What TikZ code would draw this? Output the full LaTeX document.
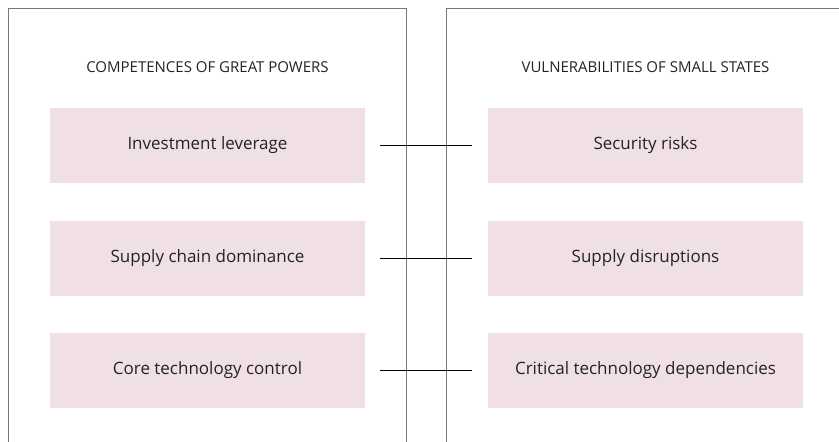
\documentclass[tikz,border=0pt]{standalone}
\usepackage{fontspec}
\setmainfont{Open Sans}
\definecolor{boxpink}{RGB}{240,224,228}
\definecolor{textgray}{RGB}{35,35,35}
\definecolor{framegray}{RGB}{120,120,120}

\begin{document}
\begin{tikzpicture}[x=1pt, y=-1pt,
  panel/.style={draw=framegray, line width=1pt},
  title/.style={font=\fontsize{15}{18}\selectfont, text=textgray},
  item/.style={rectangle, fill=boxpink, minimum height=75pt, minimum width=315pt, inner sep=0pt, font=\fontsize{17}{20}\selectfont, text=textgray},
  link/.style={draw=black, line width=0.9pt, shorten <=15pt, shorten >=16pt}]

\useasboundingbox (0,0) rectangle (839,442);

%% PANELES
\draw[panel] (8,442) -- (8,8.5) -- (406,8.5) -- (406,442);
\draw[panel] (446,442) -- (446,8.5) -- (839,8.5);

% Titulos
\node[title] at (207.5,67) (TitGreat) {COMPETENCES OF GREAT POWERS};
\node[title] at (645.5,67) (TitSmall) {VULNERABILITIES OF SMALL STATES};

% Competencias
\node[item] at (207.5,145.5) (Invest) {Investment leverage};
\node[item] at (207.5,258) (Supply) {Supply chain dominance};
\node[item] at (207.5,370.5) (Core) {Core technology control};

% Vulnerabilidades
\node[item] at (645.5,145.5) (Secur) {Security risks};
\node[item] at (645.5,258) (Disrupt) {Supply disruptions};
\node[item] at (645.5,370.5) (Crit) {Critical technology dependencies};

% Enlaces
\draw[link] (Invest.east) -- (Secur.west);
\draw[link] (Supply.east) -- (Disrupt.west);
\draw[link] (Core.east) -- (Crit.west);

\end{tikzpicture}
\end{document}
